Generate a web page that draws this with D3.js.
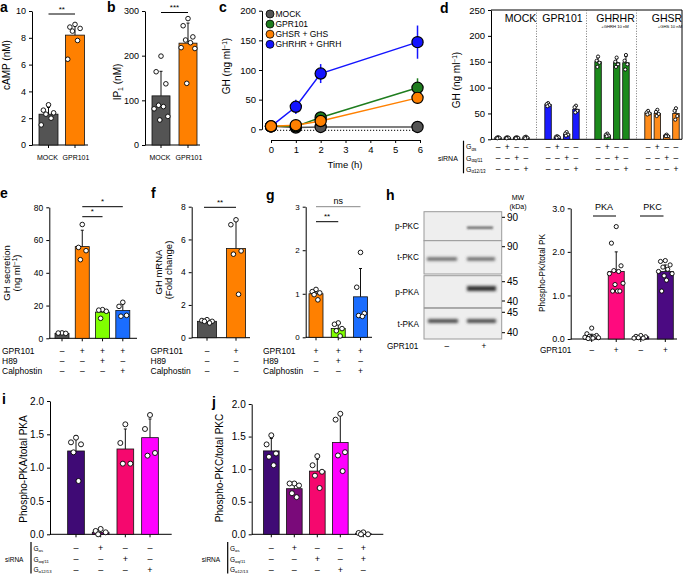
<!DOCTYPE html>
<html><head><meta charset="utf-8">
<script src="https://cdn.jsdelivr.net/npm/d3@7"></script>
<style>body{margin:0;background:#fff}svg{font-family:"Liberation Sans",Arial,Helvetica,sans-serif}</style>
</head><body><svg id="fig" width="685" height="575"></svg>
<script>
// ---------------- DATA ----------------
// a
const aCats = ["MOCK","GPR101"];
const aMeans = [2.3, 8.2];
const aSD = [0.5, 0.8];
const aPts = [[3.0,2.6,2.4,2.3,2.0,1.5],[9.0,8.8,8.7,8.5,7.8,6.4]];
// b
const bCats = ["MOCK","GPR101"];
const bMeans = [110, 228];
const bSD = [55, 45];
const bPts = [[199,164,137,89,86,81,64,56],[283,267,242,235,229,218,216,138]];
// c
const cTimes = [0,1,2,5.9];
const cSeries = ["MOCK","GPR101","GHSR + GHS","GHRHR + GHRH"];
const cMock = [5,3,4,4], cMockSD=[1,1,1,1];
const cGpr = [5,5,20,70], cGprSD=[1,2,4,16];
const cGhsr = [5,7,14,53], cGhsrSD=[1,2,3,10];
const cGhrhr = [5,38,94,147], cGhrhrSD=[1,12,16,28];
// d
const dGroups = ["MOCK","GPR101","GHRHR","GHSR"];
const dKnock = ["ctrl","Gs","Gq","G12"];
const dMeans = [[3,3,3,3],[67,4,10,58],[150,8,148,148],[51,50,7,50]];
const dSD = [[1,1,1,1],[3,1,3,7],[8,2,8,12],[4,6,1,10]];
const dPts = [
 [[4,3,3,2],[4,3,3,2],[4,3,3,2],[5,4,3,2]],
 [[70,68,66,64],[6,5,4,3],[14,11,9,7],[65,62,55,52]],
 [[160,152,148,140],[11,9,7,6],[158,150,145,140],[163,152,145,135]],
 [[55,52,50,48],[57,53,49,45],[9,7,6,6],[60,55,45,38]]];
const dSigns = [["–","+","–","–"],["–","–","+","–"],["–","–","–","+"]];
// e
const eCats = ["c1","c2","c3","c4"];
const eMeans = [3, 56, 16, 17];
const eSD = [0, 10, 2, 4];
const ePts = [[3.3,3.2,3.0],[69.5,55.5,53.5,48],[17.5,17.2,16.5,12.2],[22,19.5,14,13.5]];
const eSigns = [["–","+","+","+"],["–","–","+","–"],["–","–","–","+"]];
// f
const fCats = ["c1","c2"];
const fMeans = [1.0, 5.45];
const fSD = [0.08, 1.8];
const fPts = [[1.1,1.05,1.0,1.0,0.9],[7.2,6.9,5.3,5.1,2.65]];
const fSigns = [["–","+"],["–","–"],["–","–"]];
// g
const gCats = ["c1","c2","c3"];
const gMeans = [1.0, 0.2, 0.93];
const gSD = [0.08, 0.12, 0.65];
const gPts = [[1.1,1.05,1.02,0.98,0.86],[0.33,0.3,0.2,0.15,0.03],[1.95,1.15,0.55,0.5,0.48]];
const gSigns = [["+","+","+"],["–","+","–"],["–","–","+"]];
// h
const hCats = ["PKA-","PKA+","PKC-","PKC+"];
const hMeans = [0.06, 1.55, 0.05, 1.55];
const hSD = [0.05, 0.45, 0.03, 0.15];
const hPts = [[0.25,0.12,0.08,0.06,0.05,0.04,0.03,0.02,0.02,0.01],[2.58,2.2,1.68,1.57,1.55,1.5,1.28,1.25,1.1,1.1,1.1],[0.08,0.06,0.05,0.03,0.02,0.02],[1.8,1.78,1.7,1.65,1.6,1.55,1.5,1.45,1.35,1.1]];
const hSigns = ["–","+","–","+"];
const mwLabels = ["90","90","45","40","45","40"];
// i
const iCats = ["c1","c2","c3","c4"];
const iMeans = [1.25, 0.03, 1.28, 1.45];
const iSD = [0.23, 0.03, 0.3, 0.28];
const iPts = [[1.45,1.38,1.35,1.23,0.8],[0.08,0.05,0.03,0.0],[1.65,1.37,1.06,1.06],[1.79,1.58,1.22,1.18]];
const iSigns = [["–","+","–","–"],["–","–","+","–"],["–","–","–","+"]];
// j
const jCats = ["c1","c2","c3","c4","c5"];
const jMeans = [1.28, 0.7, 0.97, 1.41, 0.01];
const jSD = [0.19, 0.1, 0.18, 0.43, 0.01];
const jPts = [[1.52,1.38,1.24,1.19,1.06],[0.78,0.78,0.75,0.63,0.57],[1.2,1.06,0.96,0.9,0.71],[1.85,1.76,1.26,1.21,0.97],[0.03,0.02,0.0,0.0]];
const jSigns = [["–","+","–","–","+"],["–","–","+","–","+"],["–","–","–","+","–"]];

// ---------------- HELPERS ----------------
const svg = d3.select("#fig");
const FF = '"Liberation Sans", Arial, Helvetica, sans-serif';
const jit = [0,-0.6,0.6,-0.3,0.3,-0.85,0.85,-0.15,0.15,-0.45,0.45,-0.7];

function txt(x,y,s,fs,anchor,extra){
  const t = svg.append("text").attr("x",x).attr("y",y).attr("font-size",fs)
    .attr("text-anchor",anchor||"start").text(s);
  if(extra) extra(t);
  return t;
}
function panelLabel(x,y,s){ txt(x,y,s,14,"start",t=>t.attr("font-weight","bold")); }
function yAxis(x, scale, ticks, fmt, fs){
  const g = svg.append("g").attr("transform",`translate(${x},0)`)
   .call(d3.axisLeft(scale).tickValues(ticks).tickFormat(fmt).tickSize(3).tickSizeOuter(0).tickPadding(3));
  g.attr("font-size",fs).attr("font-family",FF);
  g.selectAll("path,line").attr("stroke","#000").attr("stroke-width",1);
  return g;
}
function xBase(x0,x1,y,scale,cats){
  svg.append("line").attr("x1",x0).attr("x2",x1).attr("y1",y).attr("y2",y).attr("stroke","#000");
  svg.append("g").selectAll("line").data(cats).join("line")
   .attr("x1",d=>scale(d)).attr("x2",d=>scale(d)).attr("y1",y).attr("y2",y+3).attr("stroke","#000");
}
function rotLabel(x,y,fs,build){
  const t = svg.append("text").attr("transform",`translate(${x},${y}) rotate(-90)`)
    .attr("text-anchor","middle").attr("font-size",fs);
  build(t); return t;
}
function bars(xs, y, cats, means, sds, pts, colors, bw, r, spread){
  const g = svg.append("g");
  cats.forEach((c,i)=>{
    const cx = xs(c);
    g.append("rect").attr("x",cx-bw/2).attr("y",y(means[i])).attr("width",bw)
      .attr("height",y(0)-y(means[i])).attr("fill",colors[i]).attr("stroke","#111").attr("stroke-width",0.8);
    if(sds[i]>0){
      g.append("line").attr("x1",cx).attr("x2",cx).attr("y1",y(means[i])).attr("y2",y(means[i]+sds[i])).attr("stroke","#111");
      g.append("line").attr("x1",cx-1.5).attr("x2",cx+1.5).attr("y1",y(means[i]+sds[i])).attr("y2",y(means[i]+sds[i])).attr("stroke","#111");
    }
    pts[i].forEach((v,j)=>{
      g.append("circle").attr("cx",cx+jit[j%jit.length]*bw*(spread||0.45)).attr("cy",y(v)).attr("r",r)
        .attr("fill","#fff").attr("stroke","#000").attr("stroke-width",0.9);
    });
  });
}
function sig(x1,x2,y,label,fs,color){
  svg.append("line").attr("x1",x1).attr("x2",x2).attr("y1",y).attr("y2",y).attr("stroke",color||"#000").attr("stroke-width",1);
  txt((x1+x2)/2,y-2.5,label,fs,"middle");
}
function signTable(xs, cats, signs, rowsY, fs){
  signs.forEach((row,ri)=>row.forEach((s,ci)=>{
    txt(xs(cats[ci]), rowsY[ri], s, fs, "middle");
  }));
}
function gLabel(x,y,sub,fs){
  const t = svg.append("text").attr("x",x).attr("y",y).attr("font-size",fs);
  t.append("tspan").text("G");
  t.append("tspan").attr("font-size",fs*0.65).attr("dy",fs*0.2).text(sub);
}
function siRNABlock(xLabel, xBar, xG, rowsY, fsS, fsG){
  txt(xLabel, rowsY[1]+3, "siRNA", fsS, "start");
  svg.append("line").attr("x1",xBar).attr("x2",xBar).attr("y1",rowsY[0]-6).attr("y2",rowsY[2]+4).attr("stroke","#000").attr("stroke-width",1.2);
  gLabel(xG, rowsY[0]+2.5, "αs", fsG);
  gLabel(xG, rowsY[1]+2.5, "αq/11", fsG);
  gLabel(xG, rowsY[2]+2.5, "α12/13", fsG);
}

// ---------------- PANEL a ----------------
panelLabel(0,12,"a");
{
  const y = d3.scaleLinear().domain([0,10]).range([145,11]);
  const x = d3.scalePoint().domain(aCats).range([48.5,75]);
  yAxis(32,y,[0,2,4,6,8,10],d3.format("d"),9);
  xBase(32,88,145,x,aCats);
  bars(x,y,aCats,aMeans,aSD,aPts,["#545454","#ff8000"],19,2.3);
  txt(x("MOCK")-1,160,"MOCK",7,"middle");
  txt(x("GPR101")+1,160,"GPR101",7,"middle");
  rotLabel(10,65,10,t=>t.text("cAMP (nM)"));
  sig(x("MOCK"),x("GPR101"),14,"**",8);
}
// ---------------- PANEL b ----------------
panelLabel(107,12,"b");
{
  const y = d3.scaleLinear().domain([0,300]).range([145,11]);
  const x = d3.scalePoint().domain(bCats).range([161,188]);
  yAxis(145,y,[0,100,200,300],d3.format("d"),9);
  xBase(145,200,145,x,bCats);
  bars(x,y,bCats,bMeans,bSD,bPts,["#545454","#ff8000"],18,2.3);
  txt(x("MOCK")-1,160,"MOCK",7,"middle");
  txt(x("GPR101")+1,160,"GPR101",7,"middle");
  rotLabel(121,82,10,t=>{t.append("tspan").text("IP");t.append("tspan").attr("font-size",7).attr("dy",2).text("1");t.append("tspan").attr("dy",-2).text(" (nM)");});
  sig(x("MOCK"),x("GPR101"),12.5,"***",8);
}
// ---------------- PANEL c ----------------
panelLabel(219,12,"c");
{
  const y = d3.scaleLinear().domain([0,200]).range([129.3,10.7]);
  const x = d3.scaleLinear().domain([0,6]).range([271,420]);
  yAxis(262,y,[0,50,100,150,200],d3.format("d"),9.5);
  const gx = svg.append("g").attr("transform","translate(0,140)")
    .call(d3.axisBottom(x).tickValues([0,1,2,3,4,5,6]).tickFormat(d3.format("d")).tickSize(3).tickSizeOuter(0));
  gx.attr("font-size",9.5).attr("font-family",FF);
  gx.selectAll("path,line").attr("stroke","#000");
  txt(345,168,"Time (h)",9.5,"middle");
  rotLabel(230,66,10,t=>{t.append("tspan").text("GH (ng ml");t.append("tspan").attr("font-size",6.5).attr("dy",-3.5).text("−1");t.append("tspan").attr("dy",3.5).text(")");});
  svg.append("line").attr("x1",x(0)).attr("x2",x(6)).attr("y1",y(0)+1).attr("y2",y(0)+1).attr("stroke","#000").attr("stroke-dasharray","1.2,1.8");
  const series = [
    {name:cSeries[0],v:cMock,sd:cMockSD,col:"#545454"},
    {name:cSeries[1],v:cGpr,sd:cGprSD,col:"#1e7d1e"},
    {name:cSeries[3],v:cGhrhr,sd:cGhrhrSD,col:"#1414ff"},
    {name:cSeries[2],v:cGhsr,sd:cGhsrSD,col:"#ff8000"}];
  const line = d3.line().x((d,i)=>x(cTimes[i])).y(d=>y(d));
  series.forEach(s=>{
    svg.append("path").attr("d",line(s.v)).attr("fill","none").attr("stroke",s.col).attr("stroke-width",1.5);
    s.v.forEach((v,i)=>{
      if(s.sd[i]>1) svg.append("line").attr("x1",x(cTimes[i])).attr("x2",x(cTimes[i])).attr("y1",y(v-s.sd[i])).attr("y2",y(v+s.sd[i])).attr("stroke",s.col).attr("stroke-width",1.5);
    });
  });
  series.forEach(s=>{
    s.v.forEach((v,i)=>{
      svg.append("circle").attr("cx",x(cTimes[i])).attr("cy",y(v)).attr("r",5.6).attr("fill",s.col).attr("stroke","#000").attr("stroke-width",1.2);
    });
  });
  const legCols = {"MOCK":"#545454","GPR101":"#1e7d1e","GHSR + GHS":"#ff8000","GHRHR + GHRH":"#1414ff"};
  const ly = d3.scalePoint().domain(cSeries).range([14,44.3]);
  cSeries.forEach(n=>{
    svg.append("circle").attr("cx",270).attr("cy",ly(n)).attr("r",4).attr("fill",legCols[n]).attr("stroke","#000").attr("stroke-width",0.8);
    txt(275.5,ly(n)+3,n,8.5,"start");
  });
}
// ---------------- PANEL d ----------------
panelLabel(440,13,"d");
{
  const y = d3.scaleLinear().domain([0,250]).range([139.3,10]);
  const gx = d3.scaleBand().domain(dGroups).range([487,687]);
  const ix = d3.scaleBand().domain(dKnock).range([-18.6,18.6]);
  const cx = (g,k)=>gx(g)+gx.bandwidth()/2+ix(k)+ix.bandwidth()/2;
  yAxis(491,y,[0,50,100,150,200,250],d3.format("d"),9.5);
  svg.append("path").attr("d",`M491,10H682V139.3`).attr("fill","none").attr("stroke","#000");
  svg.append("line").attr("x1",491).attr("x2",682).attr("y1",139.3).attr("y2",139.3).attr("stroke","#000");
  dGroups.slice(1).forEach(g=>{
    const sx = gx(g)-0.5;
    svg.append("line").attr("x1",sx).attr("x2",sx).attr("y1",10).attr("y2",139.3).attr("stroke","#555").attr("stroke-dasharray","1,1.6").attr("stroke-width",0.8);
  });
  const dCols = ["#545454","#1a1aff","#1b8a1b","#ff8c1a"];
  dGroups.forEach((g,gi)=>{
    const xs = k=>cx(g,k);
    bars(xs,y,dKnock,dMeans[gi],dSD[gi],dPts[gi],dKnock.map(()=>dCols[gi]),6.5,1.6,0.35);
    signTable(xs,dKnock,dSigns,[149.5,161,172],8.5);
  });
  const gLab = {"MOCK":520.5,"GPR101":562.5,"GHRHR":615.5,"GHSR":667};
  dGroups.forEach(g=>txt(gLab[g],22,g,10.5,"middle"));
  txt(615,27.5,"+GHRH 10 nM",4.2,"middle");
  txt(670,27.5,"+GHS 10 nM",4.2,"middle");
  rotLabel(460,80,10,t=>{t.append("tspan").text("GH (ng ml");t.append("tspan").attr("font-size",6.5).attr("dy",-3.5).text("−1");t.append("tspan").attr("dy",3.5).text(")");});
  siRNABlock(438,463.5,466,[146.7,158.3,169.3],7,7);
}
// ---------------- PANEL e ----------------
panelLabel(0,198,"e");
const efgRows = [351,361,371];
{
  const y = d3.scaleLinear().domain([0,80]).range([338.3,207.3]);
  const x = d3.scalePoint().domain(eCats).range([62,122.8]);
  yAxis(49.3,y,[0,20,40,60,80],d3.format("d"),8.5);
  xBase(49.3,137,338.3,x,eCats);
  bars(x,y,eCats,eMeans,eSD,ePts,["#545454","#ff8000","#80ff00","#1a6dff"],14,2.3);
  rotLabel(10,273,9.5,t=>t.text("GH secretion"));
  rotLabel(20,273,9.5,t=>{t.append("tspan").text("(ng ml");t.append("tspan").attr("font-size",6.5).attr("dy",-3.5).text("−1");t.append("tspan").attr("dy",3.5).text(")");});
  sig(x("c2"),x("c3"),216.7,"*",8);
  sig(x("c2"),x("c4"),206.7,"*",8);
  signTable(x,eCats,eSigns,efgRows.map(v=>v+3),8.5);
  txt(2,efgRows[0]+3,"GPR101",8.5);
  txt(2,efgRows[1]+3,"H89",8.5);
  txt(2,efgRows[2]+3,"Calphostin",8.5);
}
// ---------------- PANEL f ----------------
panelLabel(151,198,"f");
{
  const y = d3.scaleLinear().domain([0,8]).range([337.7,206.7]);
  const x = d3.scalePoint().domain(fCats).range([207,236]);
  yAxis(191.7,y,[0,2,4,6,8],d3.format("d"),8.5);
  xBase(191.7,250,337.7,x,fCats);
  bars(x,y,fCats,fMeans,fSD,fPts,["#545454","#ff8000"],19,2.3);
  rotLabel(162,272,9.5,t=>t.text("GH mRNA"));
  rotLabel(172,270,9.5,t=>t.text("(Fold change)"));
  sig(204,236,207.3,"**",8);
  signTable(x,fCats,fSigns,efgRows.map(v=>v+3),8.5);
  txt(150.5,efgRows[0]+3,"GPR101",8.5);
  txt(150.5,efgRows[1]+3,"H89",8.5);
  txt(150.5,efgRows[2]+3,"Calphostin",8.5);
}
// ---------------- PANEL g ----------------
panelLabel(266,200,"g");
{
  const y = d3.scaleLinear().domain([0,3]).range([337.3,206.7]);
  const x = d3.scalePoint().domain(gCats).range([316,360.5]);
  yAxis(305.7,y,[0,1,2,3],d3.format("d"),8);
  xBase(305.7,372,337.3,x,gCats);
  bars(x,y,gCats,gMeans,gSD,gPts,["#ff8000","#80ff00","#1a6dff"],14,2.3);
  sig(x("c1"),x("c3"),206.7,"ns",9,"#888");
  sig(x("c1"),x("c2"),221.7,"**",8);
  signTable(x,gCats,gSigns,efgRows.map(v=>v+3),8.5);
  txt(263,efgRows[0]+3,"GPR101",8.5);
  txt(263,efgRows[1]+3,"H89",8.5);
  txt(263,efgRows[2]+3,"Calphostin",8.5);
}
// ---------------- PANEL h ----------------
panelLabel(386,200,"h");
{
  const defs = svg.append("defs");
  defs.append("filter").attr("id","blur1").attr("x","-20%").attr("y","-200%").attr("width","140%").attr("height","500%")
    .append("feGaussianBlur").attr("stdDeviation","1.2,1");
  defs.append("filter").attr("id","blur2").attr("x","-20%").attr("y","-200%").attr("width","140%").attr("height","500%")
    .append("feGaussianBlur").attr("stdDeviation","1.6,1.4");
  const boxes = [[211.7,240.7,"p-PKC"],[240.7,274,"t-PKC"],[275.7,307.7,"p-PKA"],[308.3,339,"t-PKA"]];
  boxes.forEach(b=>{
    svg.append("rect").attr("x",424).attr("y",b[0]).attr("width",77.7).attr("height",b[1]-b[0])
      .attr("fill","#eeeeee").attr("stroke","#9a9a9a").attr("stroke-width",1);
    txt(419,(b[0]+b[1])/2+3,b[2],8.2,"end");
  });
  const band=(x1,x2,yc,h,col,f)=>svg.append("rect").attr("x",x1).attr("y",yc-h/2).attr("width",x2-x1).attr("height",h).attr("fill",col).attr("filter",`url(#${f})`);
  band(467,493,227.7,1.8,"#3a3a3a","blur1");
  band(427,457,259,3,"#555","blur2");
  band(467,495,259,3,"#555","blur2");
  band(467,496,288.5,5,"#333","blur2");
  band(428,458,321,3.5,"#3a3a3a","blur2");
  band(467,496,321,3.5,"#3a3a3a","blur2");
  const mwY = [217.3,246.7,281.7,301,312.3,332.7];
  mwLabels.forEach((m,i)=>{
    svg.append("line").attr("x1",502).attr("x2",505).attr("y1",mwY[i]).attr("y2",mwY[i]).attr("stroke","#000");
    txt(507,mwY[i]+3.5,m,10,"start");
  });
  txt(518,200,"MW",7,"middle");
  txt(518,209,"(kDa)",7,"middle");
  txt(387,348.5,"GPR101",8.2,"start");
  txt(446.7,348.5,"–",8.2,"middle");
  txt(484,348.5,"+",8.2,"middle");
  const y = d3.scaleLinear().domain([0,3]).range([339,208.3]);
  const x = d3.scalePoint().domain(hCats).range([591.7,665.3]);
  yAxis(570.7,y,[0,1,2,3],d3.format(".1f"),9);
  xBase(570.7,677,339,x,hCats);
  bars(x,y,hCats,hMeans,hSD,hPts,["#ff0a7e","#ff0a7e","#4b0a82","#4b0a82"],16,2.1,0.5);
  rotLabel(545,273,8.3,t=>t.text("Phospho-PK/total PK"));
  txt(604,210,"PKA",9,"middle");
  txt(652.5,210,"PKC",9,"middle");
  svg.append("line").attr("x1",593).attr("x2",616).attr("y1",216).attr("y2",216).attr("stroke","#000");
  svg.append("line").attr("x1",640).attr("x2",663.5).attr("y1",216).attr("y2",216).attr("stroke","#000");
  txt(540,353,"GPR101",8.2,"start");
  hCats.forEach((c,i)=>txt(x(c),353,hSigns[i],8.2,"middle"));
}
// ---------------- PANEL i ----------------
panelLabel(2,404,"i");
const ijRows = [548,559,569.5];
const ijCols = ["#3f0a75","#7a0a7a","#f5086e","#ff00ff"];
{
  const y = d3.scaleLinear().domain([0,2]).range([534.3,401]);
  const x = d3.scalePoint().domain(iCats).range([76,150]);
  yAxis(50,y,[0,0.5,1,1.5,2],d3.format(".1f"),10);
  xBase(50,171.7,534.3,x,iCats);
  bars(x,y,iCats,iMeans,iSD,iPts,ijCols,16.7,2.5,0.5);
  rotLabel(27,469,10,t=>t.text("Phospho-PKA/total PKA"));
  signTable(x,iCats,iSigns,ijRows.map(v=>v+3),9);
  siRNABlock(5,31,33.5,ijRows,6.5,6.5);
}
// ---------------- PANEL j ----------------
panelLabel(212,407,"j");
{
  const y = d3.scaleLinear().domain([0,2]).range([534.3,404]);
  const x = d3.scalePoint().domain(jCats).range([271.3,363.3]);
  yAxis(251.7,y,[0,0.5,1,1.5,2],d3.format(".1f"),10);
  xBase(251.7,383.3,534.3,x,jCats);
  bars(x,y,jCats,jMeans,jSD,jPts,ijCols.concat(["#3f0a75"]),15.7,2.5,0.5);
  rotLabel(223,468,10,t=>t.text("Phospho-PKC/total PKC"));
  signTable(x,jCats,jSigns,ijRows.map(v=>v+3),9);
  siRNABlock(201.7,227.7,230,ijRows,6.5,6.5);
}
</script></body></html>
